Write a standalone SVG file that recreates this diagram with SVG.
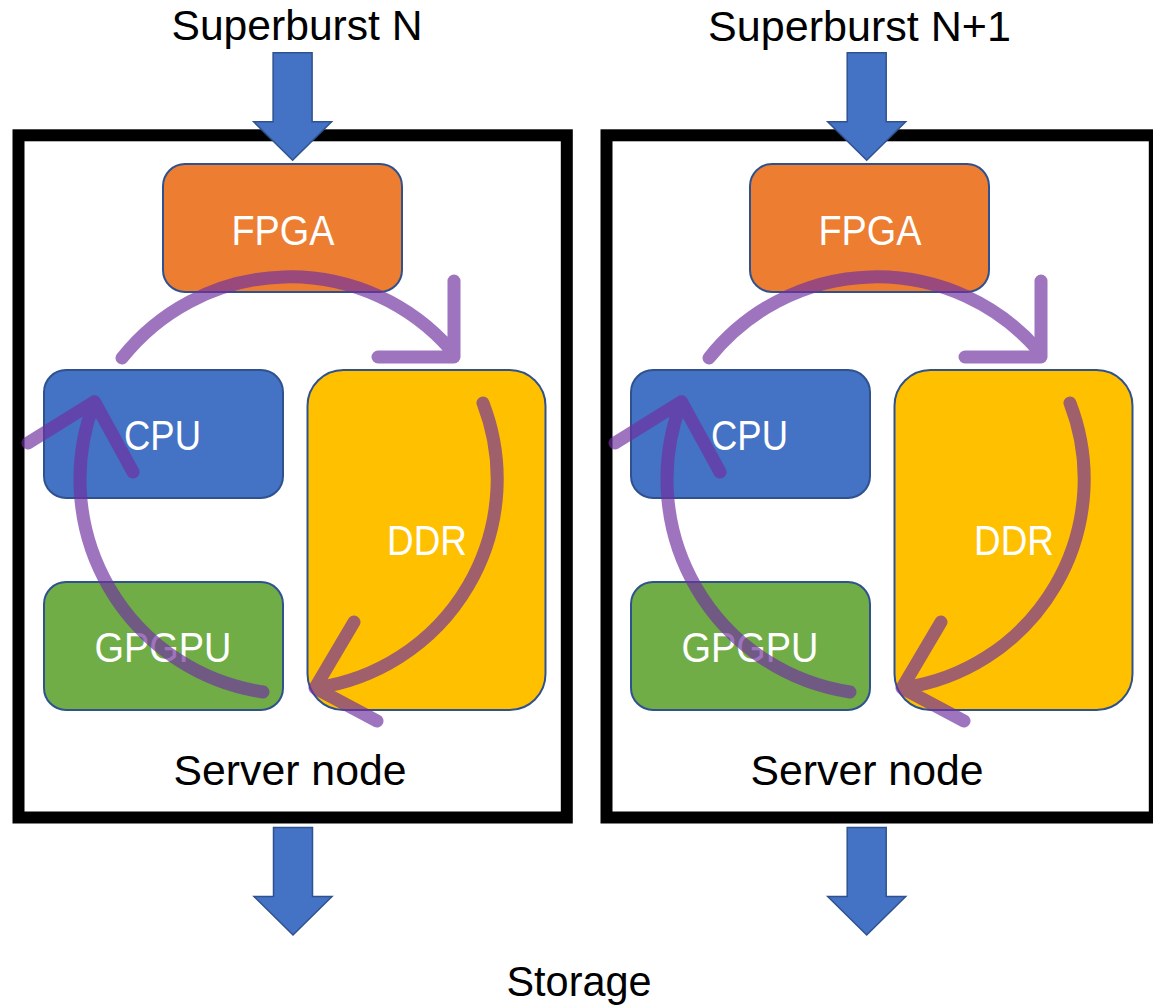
<svg xmlns="http://www.w3.org/2000/svg" width="1153" height="1006" viewBox="0 0 1153 1006">
<style>
.lbl{font-family:"Liberation Sans",Arial,sans-serif;font-size:43px;text-anchor:middle;fill:#000}
.ntxt{font-family:"Liberation Sans",Arial,sans-serif;font-size:43px;text-anchor:middle;fill:#fff}
.server{fill:#fff;stroke:#000;stroke-width:12}
.node{stroke:#2F528F;stroke-width:2}
.flow{fill:#4472C4;stroke:#2F528F;stroke-width:1.5;stroke-linejoin:miter}
.cyc{fill:none;stroke:#7030A0;stroke-opacity:0.67;stroke-width:13;stroke-linecap:round;stroke-linejoin:round}
</style>
<defs>
<path id="bigArrow" d="M-19.5,0 H19.5 V69 H39 L0,107.5 L-39,69 H-19.5 Z"/>
</defs>
<rect x="0" y="0" width="1153" height="1006" fill="#fff"/>

<g id="server1">
<rect class="server" x="18.5" y="135.3" width="548.3" height="682.2"/>
<text class="lbl" x="290" y="785" textLength="233" lengthAdjust="spacingAndGlyphs">Server node</text>
</g>
<g id="server2">
<rect class="server" x="606.5" y="135.3" width="548.3" height="682.2"/>
<text class="lbl" x="867" y="785" textLength="233" lengthAdjust="spacingAndGlyphs">Server node</text>
</g>

<g id="fpga1"><rect class="node" x="163" y="164" width="239" height="128" rx="22" fill="#ED7D31"/><text class="ntxt" x="283" y="245" textLength="103" lengthAdjust="spacingAndGlyphs">FPGA</text></g>
<g id="cpu1"><rect class="node" x="44" y="370" width="239" height="128" rx="22" fill="#4472C4"/><text class="ntxt" x="162.5" y="450" textLength="77" lengthAdjust="spacingAndGlyphs">CPU</text></g>
<g id="gpgpu1"><rect class="node" x="44" y="582" width="239" height="128" rx="22" fill="#70AD47"/><text class="ntxt" x="163" y="662" textLength="137" lengthAdjust="spacingAndGlyphs">GPGPU</text></g>
<g id="ddr1"><rect class="node" x="307.5" y="370" width="238" height="340" rx="36" fill="#FFC000"/><text class="ntxt" x="427" y="555" textLength="80" lengthAdjust="spacingAndGlyphs">DDR</text></g>

<g id="fpga2"><rect class="node" x="750" y="164" width="239" height="128" rx="22" fill="#ED7D31"/><text class="ntxt" x="870" y="245" textLength="103" lengthAdjust="spacingAndGlyphs">FPGA</text></g>
<g id="cpu2"><rect class="node" x="631" y="370" width="239" height="128" rx="22" fill="#4472C4"/><text class="ntxt" x="749.5" y="450" textLength="77" lengthAdjust="spacingAndGlyphs">CPU</text></g>
<g id="gpgpu2"><rect class="node" x="631" y="582" width="239" height="128" rx="22" fill="#70AD47"/><text class="ntxt" x="750" y="662" textLength="137" lengthAdjust="spacingAndGlyphs">GPGPU</text></g>
<g id="ddr2"><rect class="node" x="894.5" y="370" width="238" height="340" rx="36" fill="#FFC000"/><text class="ntxt" x="1014" y="555" textLength="80" lengthAdjust="spacingAndGlyphs">DDR</text></g>

<g id="labels">
<text class="lbl" x="297" y="40" textLength="251" lengthAdjust="spacingAndGlyphs">Superburst N</text>
<text class="lbl" x="859.5" y="40.5" textLength="303" lengthAdjust="spacingAndGlyphs">Superburst N+1</text>
<text class="lbl" x="579" y="995.5" textLength="145" lengthAdjust="spacingAndGlyphs">Storage</text>
</g>

<g id="connectors">
<use href="#bigArrow" class="flow" transform="translate(292.6,52.7)"/>
<use href="#bigArrow" class="flow" transform="translate(866.7,52.7)"/>
<use href="#bigArrow" class="flow" transform="translate(293,827.5)"/>
<use href="#bigArrow" class="flow" transform="translate(866.7,827.5)"/>
<g id="cycle1">
<path class="cyc" d="M122,358 A214,214 0 0 1 450,349 M454,281 V357 H378"/>
<path class="cyc" d="M483,403 A211,211 0 0 1 316,688 M354,622 L315,688 L377,721"/>
<path class="cyc" d="M263,692 A215,215 0 0 1 94.4,402 M28,443 L94.4,401.7 L133,472"/>
</g>
<g id="cycle2" transform="translate(587,0)">
<path class="cyc" d="M122,358 A214,214 0 0 1 450,349 M454,281 V357 H378"/>
<path class="cyc" d="M483,403 A211,211 0 0 1 316,688 M354,622 L315,688 L377,721"/>
<path class="cyc" d="M263,692 A215,215 0 0 1 94.4,402 M28,443 L94.4,401.7 L133,472"/>
</g>
</g>
</svg>
